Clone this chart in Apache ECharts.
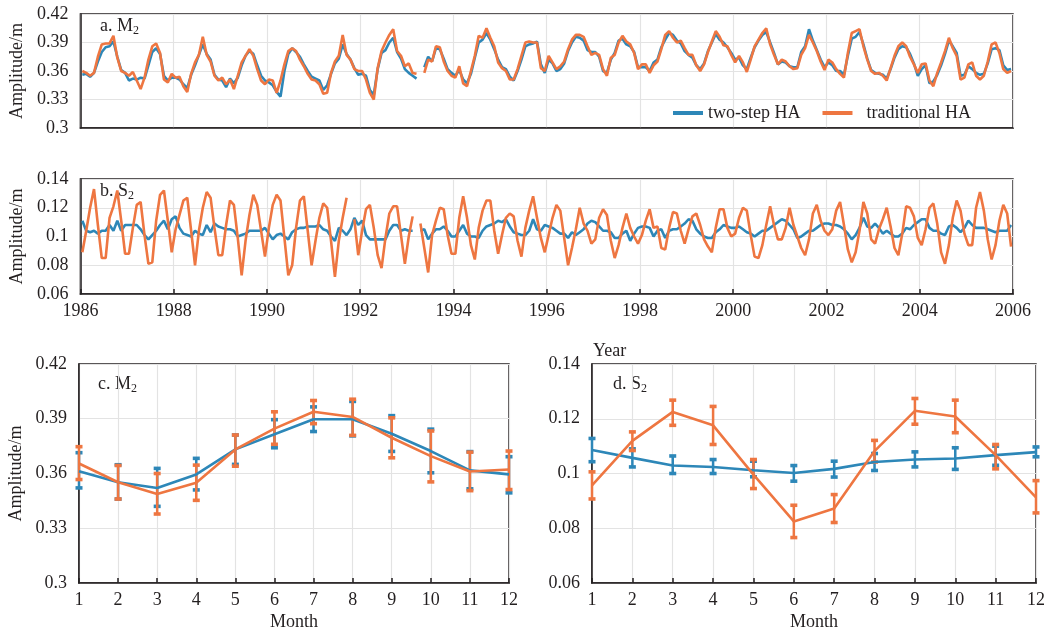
<!DOCTYPE html>
<html><head><meta charset="utf-8">
<script src="https://cdn.jsdelivr.net/npm/echarts@6/dist/echarts.min.js"></script>
<style>html,body{margin:0;padding:0;background:#fff}#c{width:1048px;height:635px}</style>
</head><body><div id="c"></div>
<script>
// ---------- data ----------
const startYear = 1986;
const yearTicks = [1986,1988,1990,1992,1994,1996,1998,2000,2002,2004,2006];
const seriesNames = ['two-step HA', 'traditional HA'];

const m2TwoStep = [
.356,.357,.354,.358,.370,.380,.385,.386,.391,.375,.361,.358,
.350,.352,.351,.353,.352,.366,.380,.384,.378,.355,.350,.353,
.353,.351,.346,.342,.356,.366,.377,.388,.378,.372,.356,.351,
.350,.343,.352,.347,.353,.366,.376,.381,.378,.366,.355,.350,
.348,.345,.338,.333,.360,.378,.384,.380,.375,.367,.360,.354,
.352,.350,.340,.345,.357,.368,.373,.388,.378,.372,.363,.356,
.357,.355,.340,.335,.362,.379,.382,.390,.395,.380,.373,.362,
.358,.355,.352,null,.364,.375,.370,.384,.383,.373,.362,.358,
.355,.361,.351,.347,.357,.374,.390,.393,.400,.393,.383,.372,
.364,.362,.354,.350,.360,.372,.386,.388,.389,.391,.367,.358,
.372,.368,.360,.362,.368,.381,.390,.396,.395,.392,.382,.380,
.380,.375,.360,.358,.372,.379,.392,.394,.388,.386,.380,.364,
.364,.364,.360,.369,.372,.385,.393,.400,.398,.392,.389,.381,
.377,.374,.366,.362,.368,.381,.390,.399,.393,.390,.385,.379,
.372,.374,.366,.362,.374,.385,.392,.398,.401,.390,.379,.367,
.370,.369,.365,.364,.364,.380,.386,.404,.392,.382,.372,.364,
.369,.366,.360,.360,.356,.376,.394,.396,.401,.388,.373,.361,
.358,.357,.356,.352,.362,.374,.383,.386,.385,.378,.368,.355,
.362,.366,.347,.349,.356,.366,.378,.392,.386,.379,.355,.356,
.365,.362,.358,.356,.357,.368,.383,.384,.382,.366,.361,.362];

const m2Traditional = [
.360,.358,.355,.358,.375,.388,.389,.389,.397,.374,.360,.358,
.355,.359,.350,.341,.353,.372,.386,.389,.379,.351,.348,.357,
.353,.354,.344,.338,.357,.369,.377,.396,.377,.370,.355,.350,
.353,.346,.351,.341,.355,.369,.376,.383,.376,.362,.350,.346,
.351,.350,.337,.350,.367,.381,.384,.381,.372,.365,.357,.351,
.350,.346,.336,.337,.358,.370,.376,.398,.377,.372,.362,.360,
.360,.351,.337,.330,.363,.381,.390,.398,.404,.381,.376,.365,
.368,.358,.357,null,.358,.372,.370,.386,.385,.370,.360,.355,
.353,.365,.347,.344,.360,.376,.397,.395,.405,.395,.386,.369,
.363,.360,.351,.351,.362,.376,.390,.391,.390,.390,.363,.360,
.376,.369,.362,.365,.370,.383,.393,.398,.398,.396,.386,.377,
.379,.377,.362,.355,.374,.377,.390,.397,.391,.388,.379,.362,
.367,.367,.358,.366,.370,.383,.398,.402,.395,.390,.392,.384,
.377,.377,.366,.360,.367,.380,.391,.402,.396,.387,.386,.377,
.369,.376,.369,.359,.372,.386,.393,.400,.405,.388,.377,.367,
.372,.370,.365,.362,.363,.377,.384,.398,.390,.381,.370,.361,
.372,.369,.362,.357,.353,.379,.400,.402,.404,.386,.372,.360,
.357,.358,.355,.350,.363,.376,.386,.390,.386,.375,.367,.358,
.367,.368,.350,.344,.358,.369,.381,.395,.384,.376,.351,.353,
.367,.369,.355,.351,.355,.370,.388,.390,.379,.362,.358,.360];

const s2TwoStep = [
.111,.104,.103,.104,.102,.104,.104,.108,.104,.111,.104,.108,
.108,.108,.108,.105,.101,.098,.101,.104,.108,.111,.105,.112,
.114,.106,.102,.101,.100,.104,.102,.101,.108,.103,.109,.107,
.106,.105,.105,.104,.100,.101,.102,.104,.104,.104,.104,.106,
.102,.098,.101,.102,.100,.098,.103,.105,.106,.106,.107,.107,
.107,.108,.105,.104,.100,.097,.106,.104,.101,.105,.113,.108,
.111,.101,.098,.098,.098,.098,.098,.104,.108,.108,.104,.105,
.104,.104,null,.104,.105,.098,.102,.105,.105,.107,.104,.100,
.100,.104,.108,.102,.100,.100,.099,.104,.107,.108,.109,.111,
.110,.112,.107,.103,.102,.101,.101,.104,.112,.105,.104,.108,
.107,.106,.104,.102,.102,.099,.103,.101,.103,.105,.109,.111,
.110,.107,.104,.104,.103,.099,.099,.102,.104,.097,.102,.106,
.107,.107,.106,.100,.104,.105,.099,.104,.105,.105,.107,.109,
.112,.111,.105,.102,.100,.099,.099,.103,.105,.108,.107,.106,
.106,.107,.105,.103,.102,.100,.102,.104,.104,.106,.108,.110,
.112,.111,.108,.105,.099,.100,.102,.104,.104,.106,.108,.109,
.109,.108,.108,.107,.105,.102,.098,.101,.106,.113,.107,.106,
.109,.106,.102,.104,.102,.100,.100,.102,.106,.105,.108,.110,
.112,.112,.106,.104,.104,.102,.101,.107,.108,.106,.103,.106,
.111,.108,.106,.106,.106,.105,.104,.103,.104,.104,.104,.108];

const s2Traditional = [
.089,.104,.120,.133,.108,.085,.085,.113,.121,.132,.111,.088,
.088,.106,.122,.124,.101,.081,.082,.111,.129,.132,.111,.089,
.105,.115,.125,.127,.104,.080,.104,.120,.131,.127,.106,.087,
.087,.108,.125,.122,.099,.073,.097,.115,.129,.122,.104,.086,
.106,.122,.129,.125,.099,.073,.080,.106,.125,.128,.104,.080,
.097,.113,.123,.120,.097,.072,.097,.113,.127,null,.112,.087,
.104,.119,.122,.106,.087,.078,.099,.116,.121,.121,.101,.081,
.100,.114,null,.109,.092,.075,.101,.111,.120,.119,.101,.088,
.088,.113,.128,.113,.094,.084,.106,.118,.125,.125,.104,.088,
.101,.113,.116,.114,.097,.086,.106,.118,.128,.113,.099,.089,
.101,.113,.122,.118,.099,.080,.092,.105,.120,.109,.104,.095,
.098,.113,.119,.115,.097,.085,.094,.106,.116,.106,.100,.095,
.101,.111,.119,.106,.107,.092,.091,.106,.117,.116,.104,.095,
.105,.114,.116,.108,.098,.093,.089,.106,.119,.119,.106,.100,
.102,.113,.120,.118,.101,.086,.085,.094,.108,.121,.108,.098,
.098,.106,.120,.108,.100,.092,.087,.098,.116,.122,.111,.104,
.101,.105,.118,.124,.108,.091,.082,.089,.104,.124,.116,.098,
.095,.105,.112,.120,.107,.092,.087,.102,.121,.120,.114,.099,
.094,.105,.120,.123,.109,.089,.081,.094,.113,.125,.118,.102,
.094,.094,.120,.131,.118,.098,.084,.094,.111,.122,.116,.093];

const months = [1,2,3,4,5,6,7,8,9,10,11,12];
// panel c (M2 monthly climatology): mean, lower, upper
const cTwoMean  = [.3613,.3552,.3521,.3595,.3732,.3815,.3897,.3897,.3818,.3723,.3617,.3595];
const cTwoLow   = [.3521,.3460,.3420,.3510,.3650,.3741,.3830,.3806,.3721,.3604,.3516,.3494];
const cTwoHigh  = [.3714,.3648,.3628,.3683,.3811,.3895,.3965,.3995,.3917,.3843,.3720,.3692];
const cTradMean = [.3655,.3552,.3488,.3549,.3732,.3846,.3938,.3910,.3796,.3695,.3611,.3622];
const cTradLow  = [.3567,.3460,.3378,.3453,.3640,.3760,.3873,.3809,.3686,.3554,.3506,.3512];
const cTradHigh = [.3747,.3644,.3600,.3646,.3811,.3938,.4000,.4007,.3905,.3833,.3717,.3723];
// panel d (S2 monthly climatology)
const dTwoMean  = [.1086,.1057,.1029,.1024,.1012,.1002,.1017,.1042,.1051,.1055,.1067,.1078];
const dTwoLow   = [.1043,.1024,.1000,.1000,.0988,.0972,.0987,.1011,.1024,.1015,.1030,.1061];
const dTwoHigh  = [.1128,.1090,.1064,.1051,.1045,.1029,.1045,.1073,.1079,.1094,.1100,.1097];
const dTradMean = [.0957,.1119,.1225,.1176,.0996,.0825,.0872,.1082,.1229,.1208,.1067,.0913];
const dTradLow  = [.0907,.1084,.1176,.1106,.0945,.0766,.0821,.1042,.1180,.1149,.1017,.0856];
const dTradHigh = [.1006,.1152,.1268,.1245,.1051,.0884,.0923,.1121,.1274,.1268,.1106,.0974];

// ---------- build ----------
const BLUE = '#2d87b8', ORANGE = '#ee7641', INK = '#231f20', GRID = '#e3e3e3';
const FONT = 'Liberation Serif';
function ts(arr){ return arr.map((v,i)=>[startYear + (i+0.5)/12, v==null?'-':v]); }
function pairs(xs, ys){ return xs.map((x,i)=>[x, ys[i]]); }
function bars(xs, lo, hi){ return xs.map((x,i)=>[x, lo[i], hi[i]]); }
const fmt = v => String(parseFloat((+v).toFixed(3)));
const fmtInt = v => String(Math.round(v));

function errRender(params, api){
  const x = api.value(0), lo = api.value(1), hi = api.value(2);
  const p1 = api.coord([x, lo]), p2 = api.coord([x, hi]);
  const col = api.visual('color');
  return {type:'group', children:[
    {type:'line', shape:{x1:p1[0],y1:p1[1],x2:p2[0],y2:p2[1]}, style:{stroke:col,lineWidth:2.5}},
    {type:'rect', shape:{x:p1[0]-3.5,y:p1[1]-1.8,width:7,height:3.6}, style:{fill:col}},
    {type:'rect', shape:{x:p2[0]-3.5,y:p2[1]-1.8,width:7,height:3.6}, style:{fill:col}}
  ]};
}

const axisText = {color: INK, fontFamily: FONT, fontSize: 18};
function yAx(gi, min, max, itv, name){
  return {type:'value', gridIndex:gi, min:min, max:max, interval:itv,
    name:name||'', nameLocation:'middle', nameGap:54, nameRotate:90,
    nameTextStyle:{color:INK, fontFamily:FONT, fontSize:18},
    axisLine:{show:true, lineStyle:{color:INK, width:1.5}},
    axisTick:{show:false},
    axisLabel:{...axisText, margin:12, formatter:fmt},
    splitLine:{show:true, lineStyle:{color:GRID, width:1.2}}};
}
function xAx(gi, min, max, itv, showLabel, name){
  return {type:'value', gridIndex:gi, min:min, max:max, interval:itv,
    name:name||'', nameLocation:'middle', nameGap:30,
    nameTextStyle:{color:INK, fontFamily:FONT, fontSize:18},
    axisLine:{show:true, onZero:false, lineStyle:{color:INK, width:1.5}},
    axisTick:{show:showLabel, inside:true, length:5, lineStyle:{color:INK, width:1.5}},
    axisLabel:{show:showLabel, ...axisText, margin:8, formatter:fmtInt},
    splitLine:{show:true, lineStyle:{color:GRID, width:1.2}}};
}
const gridBase = {show:true, borderColor:INK, borderWidth:1.5, backgroundColor:'transparent'};

const option = {
  animation:false,
  backgroundColor:'#fff',
  grid:[
    {...gridBase, left:78, right:35, top:14, height:114},
    {...gridBase, left:78, right:35, top:179, height:115},
    {...gridBase, left:79, width:430, top:364, height:219},
    {...gridBase, left:592, width:446, top:364, height:219}
  ],
  xAxis:[
    xAx(0, 1986, 2006, 2, false),
    xAx(1, 1986, 2006, 2, true),
    xAx(2, 1, 12, 1, true, 'Month'),
    xAx(3, 1, 12, 1, true, 'Month')
  ],
  yAxis:[
    yAx(0, 0.30, 0.42, 0.03, 'Amplitude/m'),
    yAx(1, 0.06, 0.14, 0.02, 'Amplitude/m'),
    yAx(2, 0.30, 0.42, 0.03, 'Amplitude/m'),
    yAx(3, 0.06, 0.14, 0.02, '')
  ],
  legend:{
    data:seriesNames, left:668, top:99, itemWidth:30, itemHeight:4, itemGap:22,
    icon:'rect',
    formatter: n => n === seriesNames[1] ? '  ' + n : n,
    textStyle:{color:INK, fontFamily:FONT, fontSize:18, padding:[0,0,0,0]}
  },
  graphic:[
    {type:'text', left:100, top:17, style:{text:'a. M{s|2}', fill:INK, font:'18px '+FONT, rich:{s:{fontSize:12, fontFamily:FONT, fill:INK, padding:[9,0,0,0]}}}},
    {type:'text', left:100, top:182, style:{text:'b. S{s|2}', fill:INK, font:'18px '+FONT, rich:{s:{fontSize:12, fontFamily:FONT, fill:INK, padding:[9,0,0,0]}}}},
    {type:'text', left:98, top:375, style:{text:'c. M{s|2}', fill:INK, font:'18px '+FONT, rich:{s:{fontSize:12, fontFamily:FONT, fill:INK, padding:[9,0,0,0]}}}},
    {type:'text', left:613, top:375, style:{text:'d. S{s|2}', fill:INK, font:'18px '+FONT, rich:{s:{fontSize:12, fontFamily:FONT, fill:INK, padding:[9,0,0,0]}}}},
    {type:'text', left:593, top:342, style:{text:'Year', fill:INK, font:'18px '+FONT}}
  ],
  series:[
    {name:seriesNames[0], type:'line', xAxisIndex:0, yAxisIndex:0, data:ts(m2TwoStep), showSymbol:false, lineStyle:{width:2.6,color:BLUE}, itemStyle:{color:BLUE}},
    {name:seriesNames[1], type:'line', xAxisIndex:0, yAxisIndex:0, data:ts(m2Traditional), showSymbol:false, lineStyle:{width:2.6,color:ORANGE}, itemStyle:{color:ORANGE}},
    {name:seriesNames[0], type:'line', xAxisIndex:1, yAxisIndex:1, data:ts(s2TwoStep), showSymbol:false, lineStyle:{width:2.6,color:BLUE}, itemStyle:{color:BLUE}},
    {name:seriesNames[1], type:'line', xAxisIndex:1, yAxisIndex:1, data:ts(s2Traditional), showSymbol:false, lineStyle:{width:2.6,color:ORANGE}, itemStyle:{color:ORANGE}},

    {name:seriesNames[0], type:'line', xAxisIndex:2, yAxisIndex:2, data:pairs(months,cTwoMean), showSymbol:false, lineStyle:{width:2.6,color:BLUE}, itemStyle:{color:BLUE}},
    {name:'err-c-two', type:'custom', xAxisIndex:2, yAxisIndex:2, data:bars(months,cTwoLow,cTwoHigh), renderItem:errRender, itemStyle:{color:BLUE}, encode:{x:0,y:[1,2]}},
    {name:seriesNames[1], type:'line', xAxisIndex:2, yAxisIndex:2, data:pairs(months,cTradMean), showSymbol:false, lineStyle:{width:2.6,color:ORANGE}, itemStyle:{color:ORANGE}},
    {name:'err-c-trad', type:'custom', xAxisIndex:2, yAxisIndex:2, data:bars(months,cTradLow,cTradHigh), renderItem:errRender, itemStyle:{color:ORANGE}, encode:{x:0,y:[1,2]}},

    {name:seriesNames[0], type:'line', xAxisIndex:3, yAxisIndex:3, data:pairs(months,dTwoMean), showSymbol:false, lineStyle:{width:2.6,color:BLUE}, itemStyle:{color:BLUE}},
    {name:'err-d-two', type:'custom', xAxisIndex:3, yAxisIndex:3, data:bars(months,dTwoLow,dTwoHigh), renderItem:errRender, itemStyle:{color:BLUE}, encode:{x:0,y:[1,2]}},
    {name:seriesNames[1], type:'line', xAxisIndex:3, yAxisIndex:3, data:pairs(months,dTradMean), showSymbol:false, lineStyle:{width:2.6,color:ORANGE}, itemStyle:{color:ORANGE}},
    {name:'err-d-trad', type:'custom', xAxisIndex:3, yAxisIndex:3, data:bars(months,dTradLow,dTradHigh), renderItem:errRender, itemStyle:{color:ORANGE}, encode:{x:0,y:[1,2]}}
  ]
};
const chart = echarts.init(document.getElementById('c'), null, {renderer:'canvas'});
chart.setOption(option);
</script></body></html>
